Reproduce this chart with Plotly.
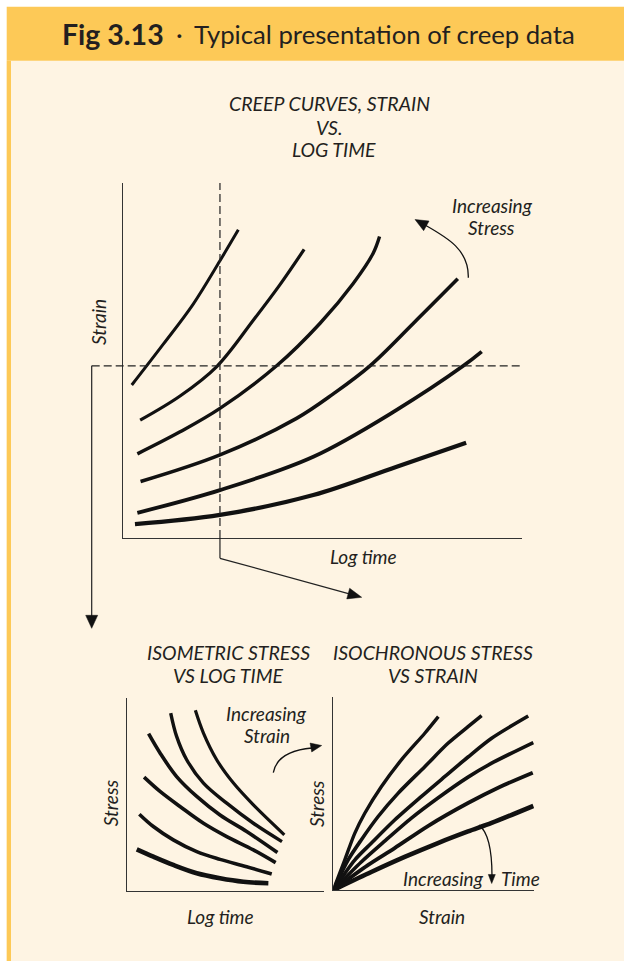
import math
import plotly.graph_objects as go

W, H = 624, 961

# ---------------- data (schematic, arbitrary units 0-100) ----------------
# Top: creep curves, strain vs log time (curve 1 = highest stress)
creep_logtime = [
    [2.2, 10.1, 17.6, 24.3, 28.9],
    [4.3, 14.3, 23.5, 32.7, 39.3, 45.4],
    [3.6, 14.3, 24.3, 38.5, 49.4, 57.7, 62.7, 64.3],
    [4.4, 24.3, 43.5, 52.7, 61.9, 72.8, 83.9],
    [3.6, 24.3, 47.7, 68.6, 85.3, 89.9],
    [3.0, 24.3, 47.7, 68.6, 86.0],
]
creep_strain = [
    [43.1, 54.6, 65.9, 78.1, 86.8],
    [33.2, 40.0, 48.3, 61.4, 71.3, 81.3],
    [23.7, 29.9, 36.5, 48.5, 60.5, 71.7, 80.2, 84.9],
    [15.9, 23.4, 33.7, 40.6, 48.5, 60.5, 73.0],
    [7.1, 13.5, 22.9, 36.1, 48.5, 52.5],
    [3.9, 6.5, 12.1, 20.1, 26.8],
]
ISO_TIME = 24.3     # isochronous section (vertical dashed line)
ISO_STRAIN = 48.5   # isometric section (horizontal dashed line)

# Bottom-left: isometric stress vs log time (curve 1 = lowest strain)
isometric_logtime = [
    [5.1, 13.5, 23.6, 35.5, 47.3, 59.1, 71.8],
    [6.4, 13.5, 23.6, 35.5, 47.3, 60.8, 73.5],
    [8.8, 16.9, 27.0, 38.9, 50.7, 64.2, 75.5],
    [11.1, 16.9, 25.3, 35.5, 47.3, 60.8, 76.4],
    [22.3, 25.3, 30.4, 38.9, 50.7, 64.2, 78.7],
    [34.8, 38.9, 45.6, 54.1, 64.2, 79.9],
]
isometric_stress = [
    [21.6, 17.8, 13.5, 9.2, 6.6, 4.8, 4.0],
    [39.8, 33.4, 26.5, 20.4, 16.4, 12.6, 8.8],
    [59.0, 51.6, 43.8, 35.1, 28.2, 21.3, 14.7],
    [81.5, 71.5, 59.3, 49.0, 39.4, 30.8, 19.9],
    [92.2, 80.1, 68.0, 55.9, 45.5, 35.1, 25.6],
    [93.6, 81.8, 68.0, 55.9, 44.6, 29.1],
]

# Bottom-right: isochronous stress vs strain (curve 1 = shortest time)
isochronous_strain = [
    [0, 5.8, 10.9, 16.0, 24.4, 34.6, 46.5, 53.4],
    [0, 7.5, 14.2, 22.7, 32.9, 46.5, 58.3, 68.5, 75.4],
    [0, 10.9, 19.3, 31.2, 44.7, 56.6, 68.5, 80.5, 99.1],
    [0, 14.2, 26.1, 39.7, 53.2, 68.5, 80.5, 101.7],
    [0, 17.6, 31.2, 48.1, 68.5, 84.6, 101.4],
    [0, 19.3, 36.3, 53.2, 68.5, 80.5, 101.7],
]
isochronous_stress = [
    [0, 15.5, 29.3, 39.7, 53.4, 67.3, 81.1, 89.7],
    [0, 15.5, 25.9, 37.9, 50.0, 63.8, 75.9, 84.5, 90.2],
    [0, 15.5, 24.2, 36.2, 48.3, 58.6, 68.8, 78.5, 90.0],
    [0, 14.5, 25.3, 37.2, 47.6, 58.4, 65.6, 76.3],
    [0, 12.9, 21.7, 33.1, 45.0, 53.3, 60.7],
    [0, 9.3, 17.1, 24.3, 30.3, 34.7, 43.5],
]

top_widths = [3.0, 3.2, 3.4, 3.6, 3.8, 4.2]
iso_widths = [4.6, 3.6, 3.6, 3.6, 3.4, 3.2]
isoch_widths = [3.4, 3.6, 3.6, 3.6, 3.8, 4.6]

# ---------------- styling ----------------
FONT = "Lato"
INK = "#231f20"
LINE = "#111111"
HEADER = "#FDC957"
CREAM = "#FEF4E3"
TITLE_SIZE = 19.5
LABEL_SIZE = 19


def X(px):
    return px / W


def Y(py):
    return 1 - py / H


fig = go.Figure()

for xs, ys, w in zip(creep_logtime, creep_strain, top_widths):
    fig.add_trace(go.Scatter(x=xs, y=ys, mode="lines", xaxis="x", yaxis="y",
                             line=dict(color=LINE, width=w, shape="spline", smoothing=1),
                             hoverinfo="skip", showlegend=False))
for xs, ys, w in zip(isometric_logtime, isometric_stress, iso_widths):
    fig.add_trace(go.Scatter(x=xs, y=ys, mode="lines", xaxis="x2", yaxis="y2",
                             line=dict(color=LINE, width=w, shape="spline", smoothing=1),
                             hoverinfo="skip", showlegend=False))
for xs, ys, w in zip(isochronous_strain, isochronous_stress, isoch_widths):
    fig.add_trace(go.Scatter(x=xs, y=ys, mode="lines", xaxis="x3", yaxis="y3",
                             line=dict(color=LINE, width=w, shape="spline", smoothing=0.8),
                             hoverinfo="skip", showlegend=False))

ax_common = dict(showline=True, linecolor="#333333", linewidth=1.2, showgrid=False,
                 zeroline=False, showticklabels=False, ticks="", fixedrange=True)

fig.update_layout(
    width=W, height=H, autosize=False,
    margin=dict(l=0, r=0, t=0, b=0),
    paper_bgcolor="white", plot_bgcolor="rgba(0,0,0,0)",
    font=dict(family=FONT, color=INK),
    xaxis=dict(domain=[X(123), X(522)], range=[0, 100], anchor="y", **ax_common),
    yaxis=dict(domain=[Y(538), Y(183)], range=[0, 100], anchor="x", **ax_common),
    xaxis2=dict(domain=[X(126.7), X(324)], range=[0, 100], anchor="y2", **ax_common),
    yaxis2=dict(domain=[Y(891), Y(698)], range=[0, 100], anchor="x2", **ax_common),
    xaxis3=dict(domain=[X(333.3), X(333.3 + 102 * 1.967)], range=[0, 102], anchor="y3", **ax_common),
    yaxis3=dict(domain=[Y(890), Y(696.7)], range=[0, 100], anchor="x3", **ax_common),
)

shapes = []
# background panels
shapes.append(dict(type="rect", xref="paper", yref="paper", x0=X(6.7), x1=X(W), y0=Y(H), y1=Y(60.7),
                   fillcolor=CREAM, line=dict(width=0), layer="below"))
shapes.append(dict(type="rect", xref="paper", yref="paper", x0=X(6.7), x1=X(11), y0=Y(H), y1=Y(60.7),
                   fillcolor=HEADER, line=dict(width=0), layer="below"))
shapes.append(dict(type="rect", xref="paper", yref="paper", x0=X(6.7), x1=X(W), y0=Y(60.7), y1=Y(6.7),
                   fillcolor=HEADER, line=dict(width=0), layer="below"))

DASH = "8px,4px"
# vertical dashed isochronous section
shapes.append(dict(type="line", xref="x", yref="y", x0=ISO_TIME, x1=ISO_TIME, y0=0, y1=100,
                   line=dict(color="#222", width=1.2, dash=DASH)))
# horizontal dashed isometric section
shapes.append(dict(type="line", xref="paper", yref="y", x0=X(91.7), x1=X(521.7), y0=ISO_STRAIN, y1=ISO_STRAIN,
                   line=dict(color="#222", width=1.2, dash=DASH)))

iso_px = 123 + ISO_TIME / 100 * (522 - 123)
strain_py = 538 - ISO_STRAIN / 100 * (538 - 183)

# solid continuation below x-axis and arrow to the right
shapes.append(dict(type="line", xref="paper", yref="paper", x0=X(iso_px), x1=X(iso_px), y0=Y(538), y1=Y(558.3),
                   line=dict(color="#222", width=1.2)))
shapes.append(dict(type="line", xref="paper", yref="paper", x0=X(iso_px), x1=X(352), y0=Y(558.3), y1=Y(594.6),
                   line=dict(color="#222", width=1.2)))
# left vertical arrow down
shapes.append(dict(type="line", xref="paper", yref="paper", x0=X(91.7), x1=X(91.7), y0=Y(strain_py), y1=Y(618),
                   line=dict(color="#222", width=1.2)))


def arrowhead(tip, frm, length, half):
    tx, ty = tip
    dx, dy = tip[0] - frm[0], tip[1] - frm[1]
    d = math.hypot(dx, dy)
    ux, uy = dx / d, dy / d
    bx, by = tx - ux * length, ty - uy * length
    nx, ny = -uy, ux
    p1 = (bx + nx * half, by + ny * half)
    p2 = (bx - nx * half, by - ny * half)
    path = "M {} {} L {} {} L {} {} Z".format(X(tx), Y(ty), X(p1[0]), Y(p1[1]), X(p2[0]), Y(p2[1]))
    return dict(type="path", xref="paper", yref="paper", path=path,
                fillcolor="#111", line=dict(color="#111", width=0.5))


def curve(points):
    s, c1, c2, e = points
    path = "M {} {} C {} {} {} {} {} {}".format(X(s[0]), Y(s[1]), X(c1[0]), Y(c1[1]),
                                                 X(c2[0]), Y(c2[1]), X(e[0]), Y(e[1]))
    return dict(type="path", xref="paper", yref="paper", path=path,
                line=dict(color="#111", width=1.3))


shapes.append(arrowhead((361.7, 597.3), (iso_px, 558.3), 14, 5.5))
shapes.append(arrowhead((91.7, 628.3), (91.7, 366), 13, 6))

# Increasing Stress arrow
shapes.append(curve([(468.3, 277.7), (469, 250), (448, 238), (425, 225)]))
shapes.append(arrowhead((415, 219.5), (448, 238), 13, 5.5))
# Increasing Strain arrow
shapes.append(curve([(273.3, 772.7), (276, 758), (290, 750), (312, 748)]))
shapes.append(arrowhead((321.7, 745.5), (292, 751), 11, 4.5))
# Increasing Time arrow
shapes.append(curve([(479, 825), (488, 832), (492, 850), (492, 876)]))
shapes.append(arrowhead((491.7, 883.5), (492, 860), 9, 3.5))

fig.update_layout(shapes=shapes)

ann = []


def text(s, px, py, size, italic=True, angle=0, xanchor="center", bold=False):
    ann.append(dict(text=s, x=X(px), y=Y(py), xref="paper", yref="paper", showarrow=False,
                    xanchor=xanchor, yanchor="middle", textangle=angle,
                    font=dict(family=FONT, size=size, color=INK,
                              style="italic" if italic else "normal",
                              weight="bold" if bold else "normal")))


text("Fig 3.13", 60, 34, 28.5, italic=False, xanchor="left", bold=True)
text("·", 180, 34, 25.7, italic=False)
text("Typical presentation of creep data", 192, 34, 25.7, italic=False, xanchor="left")

text("CREEP CURVES, STRAIN", 329, 104, TITLE_SIZE)
text("VS.", 329, 127, TITLE_SIZE)
text("LOG TIME", 334, 150, TITLE_SIZE)
text("Increasing", 492.5, 206, LABEL_SIZE)
text("Stress", 491.7, 227, LABEL_SIZE)
text("Strain", 98.3, 321.7, LABEL_SIZE, angle=-90)
text("Log time", 363.3, 556.7, LABEL_SIZE)

text("ISOMETRIC STRESS", 228, 652, TITLE_SIZE)
text("VS LOG TIME", 228, 675, TITLE_SIZE)
text("ISOCHRONOUS STRESS", 433, 652, TITLE_SIZE)
text("VS STRAIN", 433, 675, TITLE_SIZE)
text("Increasing", 266.7, 713.3, LABEL_SIZE)
text("Strain", 266.7, 735, LABEL_SIZE)
text("Stress", 110, 803.3, LABEL_SIZE, angle=-90)
text("Stress", 316.7, 803.3, LABEL_SIZE, angle=-90)
text("Increasing", 443.3, 878.3, LABEL_SIZE)
text("Time", 520.8, 878.3, LABEL_SIZE)
text("Log time", 220, 916.7, LABEL_SIZE)
text("Strain", 441.7, 916.7, LABEL_SIZE)

fig.update_layout(annotations=ann)

fig.write_html("out.html", config={"displayModeBar": False, "staticPlot": True},
               post_script="document.body.style.margin='0';document.body.style.padding='0';")
